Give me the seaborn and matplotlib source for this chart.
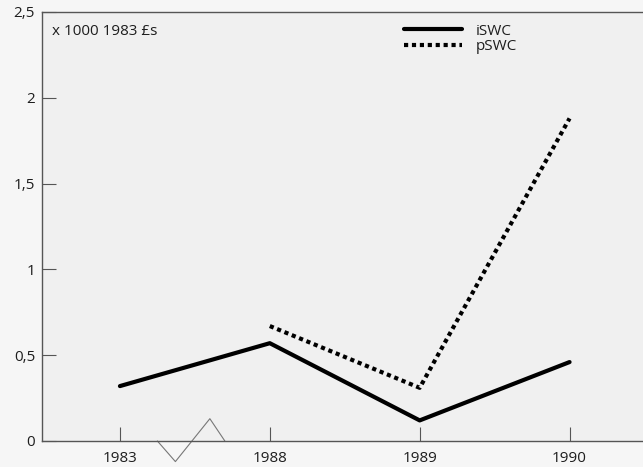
import matplotlib
matplotlib.use("Agg")
import matplotlib.pyplot as plt
import seaborn as sns
import pandas as pd
from matplotlib.ticker import FuncFormatter

years = ["1983", "1988", "1989", "1990"]
iswc = [0.32, 0.57, 0.12, 0.46]
pswc = [None, 0.67, 0.31, 1.88]
y_ticks = [0, 0.5, 1, 1.5, 2, 2.5]

sns.set_theme(style="ticks")
plt.rcParams["font.family"] = ["Open Sans", "DejaVu Sans"]

df = pd.DataFrame({"year": years, "iSWC": iswc, "pSWC": pswc})
long = df.melt(id_vars="year", var_name="series", value_name="value").dropna()

fig_bg = "#f6f6f6"
ax_bg = "#f0f0f0"
ink = "#1e1e1e"
fig = plt.figure(figsize=(6.43, 4.67), dpi=100, facecolor=fig_bg)
ax = fig.add_axes([42 / 643, 26 / 467, 601 / 643, 429 / 467])
ax.set_facecolor(ax_bg)

sns.lineplot(data=long, x="year", y="value", style="series",
             dashes={"iSWC": "", "pSWC": (1.0, 0.9)},
             color="black", linewidth=3, ax=ax, sort=False)

ax.set_xlim(-0.52, 3.49)
ax.set_ylim(0, 2.5)
ax.set_yticks(y_ticks)
ax.yaxis.set_major_formatter(FuncFormatter(lambda v, _: f"{v:g}".replace(".", ",")))
ax.set_xlabel("")
ax.set_ylabel("")

ax.spines["right"].set_visible(False)
for s in ("left", "bottom", "top"):
    ax.spines[s].set_color("#555555")
    ax.spines[s].set_linewidth(1)
ax.tick_params(axis="both", direction="in", length=10, width=0.8,
               color="#555555", labelsize=11, labelcolor=ink)
ax.tick_params(axis="y", pad=5)
ax.tick_params(axis="x", pad=7)

# axis break marker on the time axis
ax.plot([0.25, 0.37, 0.6, 0.7], [0, -0.12, 0.13, 0], color="#777777",
        linewidth=0.8, clip_on=False)

ax.text(0.017, 0.972, "x 1000 1983 £s", transform=ax.transAxes,
        ha="left", va="top", fontsize=11, color=ink)

leg = ax.legend(loc="upper left", bbox_to_anchor=(0.58, 1.005), frameon=False,
                fontsize=11, handlelength=3.8, labelspacing=0.05, handletextpad=0.85)
for t in leg.get_texts():
    t.set_color(ink)

fig.savefig("out.png", dpi=100, facecolor=fig_bg)
